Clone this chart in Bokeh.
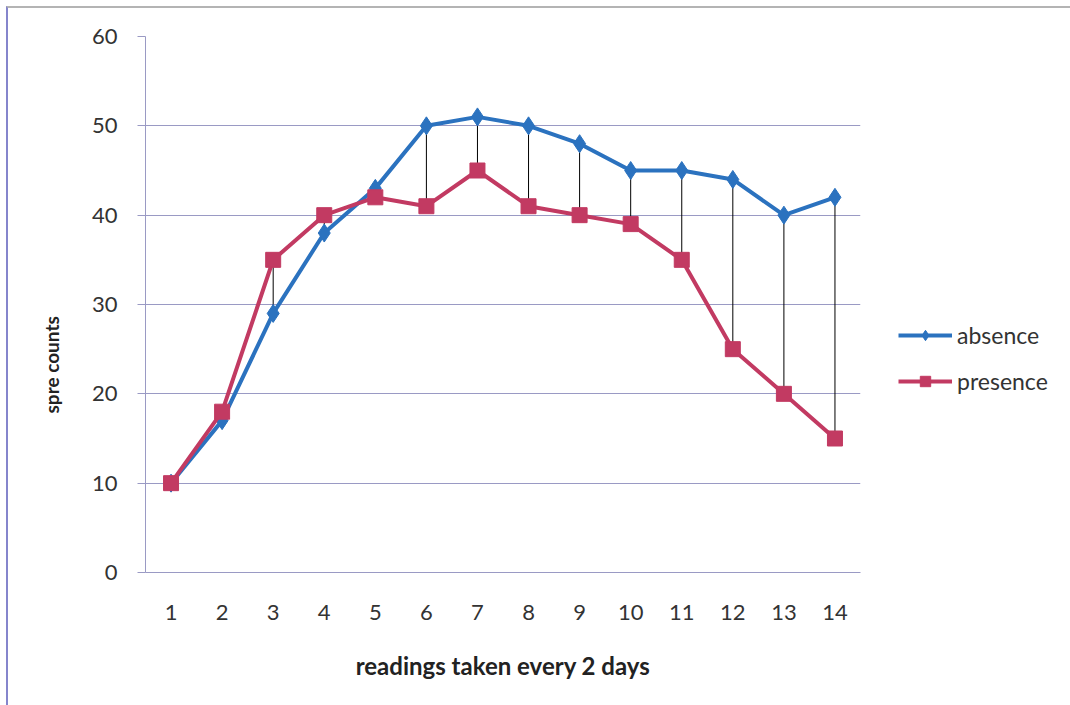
from bokeh.plotting import figure
from bokeh.models import (ColumnDataSource, Legend, LegendItem, Title,
                          FixedTicker, Range1d, InlineStyleSheet)
from bokeh.embed import file_html
from bokeh.resources import INLINE

readings = list(range(1, 15))
absence = [10, 17, 29, 38, 43, 50, 51, 50, 48, 45, 45, 44, 40, 42]
presence = [10, 18, 35, 40, 42, 41, 45, 41, 40, 39, 35, 25, 20, 15]
y_ticks = [0, 10, 20, 30, 40, 50, 60]

BLUE = "#2b72bf"
RED = "#c23a62"
GRID = "#9a9ac4"
FONT = "Lato"

src = ColumnDataSource(dict(x=readings, absence=absence, presence=presence))

p = figure(frame_width=715, frame_height=536, output_backend="svg",
           toolbar_location=None,
           x_range=Range1d(0.5, 14.5), y_range=Range1d(0, 60),
           min_border_left=145, min_border_right=210,
           min_border_top=36, min_border_bottom=133)
p.outline_line_color = None
p.background_fill_color = "white"
p.border_fill_color = "white"

# thin frame around the whole chart (left and top edges)
p.stylesheets = [InlineStyleSheet(css="""
:host::after {
  content: "";
  position: absolute;
  left: 6px; top: 6px; right: 0; bottom: 0;
  border-left: 2px solid #8585cc;
  border-top: 2px solid #b4b4b4;
  pointer-events: none;
}
""")]

# axes
p.xaxis.ticker = FixedTicker(ticks=readings)
p.yaxis.ticker = FixedTicker(ticks=y_ticks)
for ax in (p.xaxis[0], p.yaxis[0]):
    ax.axis_line_color = GRID
    ax.axis_line_width = 1
    ax.major_label_text_font = FONT
    ax.major_label_text_font_size = "22px"
    ax.major_label_text_color = "#333333"
    ax.minor_tick_line_color = None
p.xaxis.major_tick_line_color = None
p.xaxis.major_label_standoff = 26
p.yaxis.major_tick_line_color = GRID
p.yaxis.major_tick_out = 8
p.yaxis.major_tick_in = 0
p.yaxis.major_label_standoff = 20

p.xaxis.axis_label = "readings taken every 2 days"
p.xaxis.axis_label_text_font = FONT
p.xaxis.axis_label_text_font_style = "bold"
p.xaxis.axis_label_text_font_size = "24px"
p.xaxis.axis_label_text_color = "#222222"
p.xaxis.axis_label_standoff = 28

p.xgrid.grid_line_color = None
p.ygrid.grid_line_color = GRID
p.ygrid.grid_line_width = 1

# high-low drop lines between the two series
p.segment(x0="x", y0="absence", x1="x", y1="presence", source=src,
          line_color="black", line_width=1)

r_abs_l = p.line("x", "absence", source=src, line_color=BLUE, line_width=4)
r_abs_m = p.scatter("x", "absence", source=src, marker="diamond", size=18,
                    fill_color=BLUE, line_color=BLUE)
r_pre_l = p.line("x", "presence", source=src, line_color=RED, line_width=4)
r_pre_m = p.scatter("x", "presence", source=src, marker="square", size=15,
                    fill_color=RED, line_color=RED)

legend = Legend(items=[LegendItem(label="absence", renderers=[r_abs_l, r_abs_m]),
                       LegendItem(label="presence", renderers=[r_pre_l, r_pre_m])],
                location=(38, 177), orientation="vertical",
                glyph_width=54, glyph_height=26, label_standoff=5,
                spacing=18, padding=0, margin=0,
                label_text_font=FONT, label_text_font_size="23px",
                label_text_color="#333333",
                background_fill_alpha=0, border_line_color=None)
p.add_layout(legend, "right")

# y axis title, placed toward the lower part of the axis
p.add_layout(Title(text="spre counts", align="left", offset=159, standoff=52,
                   text_font=FONT, text_font_style="bold",
                   text_font_size="19px", text_color="#222222"), "left")

open("out.html", "w").write(file_html(p, INLINE))
